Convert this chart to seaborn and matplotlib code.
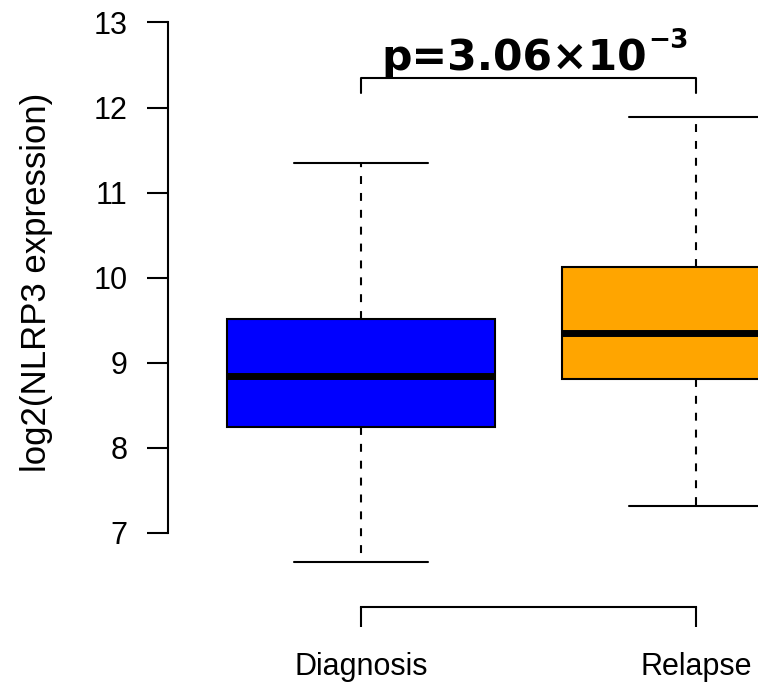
import numpy as np
import pandas as pd
import matplotlib
matplotlib.use("Agg")
import matplotlib.pyplot as plt
import seaborn as sns

# ── Data (five-number summaries per group) ────────────────────────────────────
groups   = ["Diagnosis", "Relapse"]
lows     = [6.66, 7.32]
q1s      = [8.25, 8.81]
medians  = [8.85, 9.35]
q3s      = [9.51, 10.13]
highs    = [11.35, 11.89]
colors   = ["#0000FF", "#FFA500"]
y_ticks  = [7, 8, 9, 10, 11, 12, 13]
p_main   = "p=3.06×10"
p_exp    = "\u22123"

# five points per group -> quartiles land exactly on the read values
rows = []
for g, lo, a, m, b, hi in zip(groups, lows, q1s, medians, q3s, highs):
    for v in (lo, a, m, b, hi):
        rows.append({"group": g, "value": v})
df = pd.DataFrame(rows)

sns.set_style("white")
plt.rcParams["font.family"] = ["Liberation Sans", "DejaVu Sans"]
plt.rcParams["text.color"] = "black"

fig = plt.figure(figsize=(7.58, 6.84), dpi=100)
ax = fig.add_axes([0, 0, 1, 1])

sns.boxplot(
    data=df, x="group", y="value", hue="group", palette=colors,
    legend=False, saturation=1, width=0.8, whis=(0, 100),
    linecolor="black", linewidth=1.5, fliersize=0,
    medianprops={"linewidth": 5},
    whiskerprops={"linestyle": (0, (3.8, 4.3))},
    capprops={"linestyle": "-"},
    ax=ax,
)

# ── Axes layout (R style: detached axis lines) ────────────────────────────────
ax.set_xlim(-1.079, 1.184)
ax.set_ylim(5.225, 13.264)
for s in ["top", "right"]:
    ax.spines[s].set_visible(False)
ax.spines["left"].set_position(("data", -0.578))
ax.spines["left"].set_bounds(7, 13)
ax.spines["bottom"].set_position(("data", 6.13))
ax.spines["bottom"].set_bounds(0, 1)
for s in ["left", "bottom"]:
    ax.spines[s].set_linewidth(1.5)
    ax.spines[s].set_color("black")

ax.set_yticks(y_ticks)
ax.set_yticklabels([str(t) for t in y_ticks])
ax.set_xticks([0, 1])
ax.set_xticklabels(groups)
ax.tick_params(axis="y", direction="out", length=15, width=1.5, pad=14,
               labelsize=22, left=True, colors="black")
ax.tick_params(axis="x", direction="out", length=14.4, width=1.5, pad=18,
               labelsize=22, bottom=True, colors="black")
ax.set_xlabel("")
ax.set_ylabel("")
ax.grid(False)

fig.text(37 / 758, 1 - 282 / 684, "log2(NLRP3 expression)", rotation=90,
         ha="center", va="center", fontsize=25)

# ── Significance bracket + p-value ────────────────────────────────────────────
br_top, br_bot = 12.35, 12.17
ax.plot([0, 0, 1, 1], [br_bot, br_top, br_top, br_bot], color="black",
        linewidth=1.5, clip_on=False)
t = ax.text(0.061, 12.44, p_main, ha="left", va="baseline",
            fontsize=30.6, fontweight="bold", family="DejaVu Sans")

# superscript placed right after the main text
fig.canvas.draw()
bb = t.get_window_extent()
base_px = ax.transData.transform((0.061, 12.44))[1]
fig.text((bb.x1 + 1) / 758, (base_px + 22) / 684, p_exp, ha="left",
         va="baseline", fontsize=19, fontweight="bold", family="DejaVu Sans")

fig.savefig("out.png", dpi=100)
